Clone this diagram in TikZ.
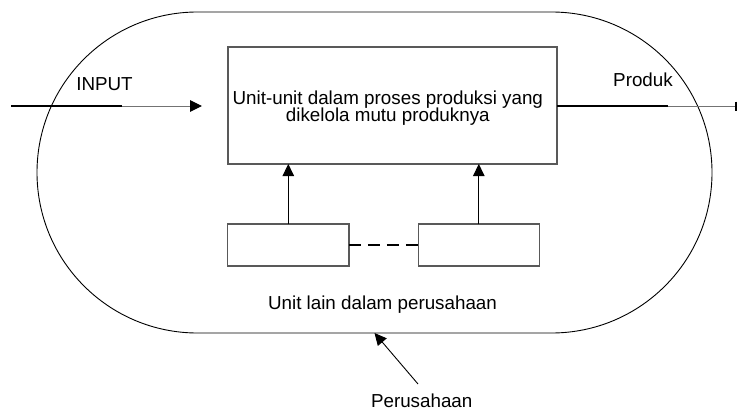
\documentclass[tikz,border=0pt]{standalone}
\usepackage{fontspec}
\setmainfont{Liberation Sans}
\usetikzlibrary{arrows.meta}
\begin{document}
\begin{tikzpicture}[x=1pt,y=-1pt,
  every node/.style={inner sep=0pt, outer sep=0pt},
  txt/.style={font=\fontsize{18.8pt}{17.7pt}\selectfont, anchor=base},
  unitbox/.style={draw=black!65, line width=1.1pt, rectangle},
  tri/.style={-{Triangle[length=12pt,width=11.5pt,color=black]}},
  thickline/.style={draw=black, line width=1.7pt},
  greyline/.style={draw=black!55, line width=1pt},
]
\useasboundingbox (0,0) rectangle (738,412);
% outer company shape
\node[draw=black, line width=0.9pt, rounded corners=160.5pt,
      minimum width=675pt, minimum height=321pt] (firm) at (374.5,172.5) {};
% main box
\node[unitbox, minimum width=329pt, minimum height=117pt] (main) at (392.5,105.5) {};
\node[txt] (mainA) at (387.8,104) {Unit-unit dalam proses produksi yang};
\node[txt] (mainB) at (387.8,121.7) {dikelola mutu produknya};
% lower boxes
\node[unitbox, minimum width=121.3pt, minimum height=42pt] (la) at (288.3,245) {};
\node[unitbox, minimum width=121pt, minimum height=42pt] (lb) at (478.8,245) {};
\draw[line width=1.2pt, dash pattern=on 12pt off 7pt] (la.east) -- (lb.west);
\draw[tri, line width=1pt] (la.north) -- (la.north |- main.south);
\draw[tri, line width=1pt] (lb.north) -- (lb.north |- main.south);
% input
\coordinate (ia) at (11,106);
\coordinate (im) at (122,106);
\coordinate (ib) at (202,106);
\draw[thickline] (ia) -- (im);
\draw[greyline, tri] (im) -- (ib);
\node[txt] (input) at (104.5,90.7) {INPUT};
% output
\coordinate (om) at (668,106);
\coordinate (oe) at (737,106);
\draw[thickline] (main.east |- om) -- (om);
\draw[greyline, -{Bar[width=9pt,line width=2pt,color=black]}] (om) -- (oe);
\node[txt] (produk) at (643,86.7) {Produk};
% labels
\node[txt] (lain) at (382.5,309.3) {Unit lain dalam perusahaan};
\node[txt] (pers) at (421.7,407.5) {Perusahaan};
\coordinate (ptail) at (418,384);
\draw[tri, line width=0.9pt] (ptail) -- (firm.south);
\end{tikzpicture}
\end{document}
